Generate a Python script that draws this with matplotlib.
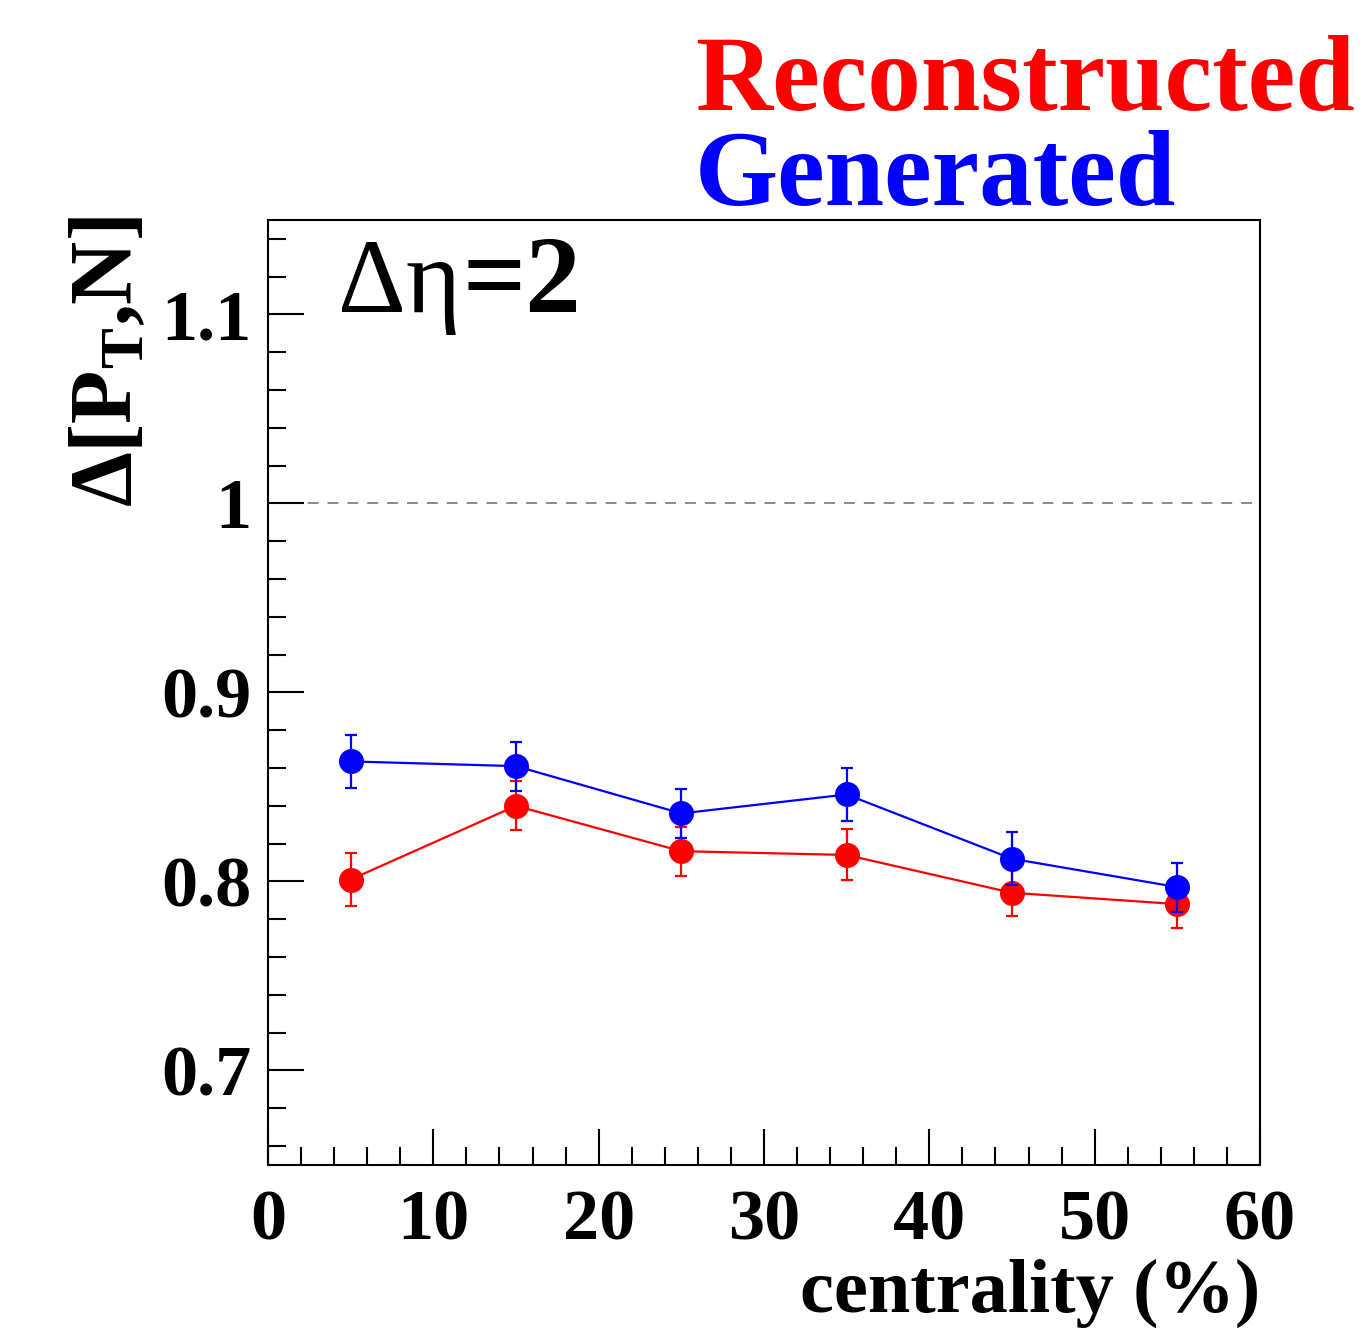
import matplotlib
matplotlib.use("Agg")
import matplotlib.pyplot as plt
from matplotlib.ticker import MultipleLocator

plt.rcParams['mathtext.fontset'] = 'custom'
plt.rcParams['mathtext.rm'] = 'Liberation Serif:bold'
plt.rcParams['mathtext.bf'] = 'Liberation Serif:bold'
plt.rcParams['mathtext.it'] = 'Liberation Serif:bold'

centrality = [5, 15, 25, 35, 45, 55]
generated = [0.8635, 0.861, 0.836, 0.846, 0.812, 0.797]
generated_err = [0.014, 0.013, 0.013, 0.014, 0.014, 0.013]
reconstructed = [0.801, 0.840, 0.816, 0.814, 0.794, 0.788]
reconstructed_err = [0.014, 0.013, 0.013, 0.0135, 0.0125, 0.0125]

fig = plt.figure(figsize=(13.7, 13.37), dpi=100)
ax = fig.add_axes([0.1956, 0.1287, 0.7241, 0.7068])

ax.axhline(1.0, color='#808080', lw=1.3, ls=(0, (6, 5)), zorder=1)

ax.errorbar(centrality, reconstructed, yerr=reconstructed_err, color='#ff0000',
            marker='o', ms=17, lw=1.6, elinewidth=1.6, capsize=4, capthick=1.6, zorder=3)
ax.errorbar(centrality, generated, yerr=generated_err, color='#0000ff',
            marker='o', ms=17, lw=1.6, elinewidth=1.6, capsize=4, capthick=1.6, zorder=4)

ax.set_xlim(0, 60)
ax.set_ylim(0.65, 1.15)
ax.xaxis.set_major_locator(MultipleLocator(10))
ax.xaxis.set_minor_locator(MultipleLocator(2))
ax.yaxis.set_major_locator(MultipleLocator(0.1))
ax.yaxis.set_minor_locator(MultipleLocator(0.02))
ax.tick_params(which='both', direction='in', top=False, right=False, width=1.5)
ax.tick_params(which='major', length=26)
ax.tick_params(which='minor', length=13)
ax.tick_params(axis='y', which='major', pad=12)
ax.tick_params(axis='x', which='major', pad=18)
for sp in ax.spines.values():
    sp.set_linewidth(1.5)

ax.set_xticks([0, 10, 20, 30, 40, 50, 60])
ax.set_xticklabels(['0', '10', '20', '30', '40', '50', '60'])
ax.set_yticks([0.7, 0.8, 0.9, 1.0, 1.1])
ax.set_yticklabels(['0.7', '0.8', '0.9', '1', '1.1'])
for lab in ax.get_xticklabels() + ax.get_yticklabels():
    lab.set_fontfamily('Liberation Serif')
    lab.set_fontweight('bold')
    lab.set_fontsize(52)

fig.text(1260 / 1370, 1 - 1312 / 1337, 'centrality (%)', ha='right', va='baseline',
         fontfamily='Liberation Serif', fontweight='bold', fontsize=55)

fig.text(110 / 1370, 1 - 362 / 1337, r'$\Delta$[P$_{\mathrm{T}}$,N]', rotation=90,
         ha='center', va='center', fontfamily='Liberation Serif', fontweight='bold', fontsize=63)

fig.text(338 / 1370, 1 - 312 / 1337, 'Δη', ha='left', va='baseline',
         fontfamily='Liberation Serif', fontsize=76)
fig.text(462 / 1370, 1 - 312 / 1337, '=2', ha='left', va='baseline',
         fontfamily='Liberation Serif', fontweight='bold', fontsize=80)

fig.text(695 / 1370, 1 - 110 / 1337, 'Reconstructed', ha='left', va='baseline',
         color='#ff0000', fontfamily='Liberation Serif', fontweight='bold', fontsize=77)
fig.text(695 / 1370, 1 - 205 / 1337, 'Generated', ha='left', va='baseline',
         color='#0000ff', fontfamily='Liberation Serif', fontweight='bold', fontsize=77)

fig.savefig('out.png', dpi=100, facecolor='white')
